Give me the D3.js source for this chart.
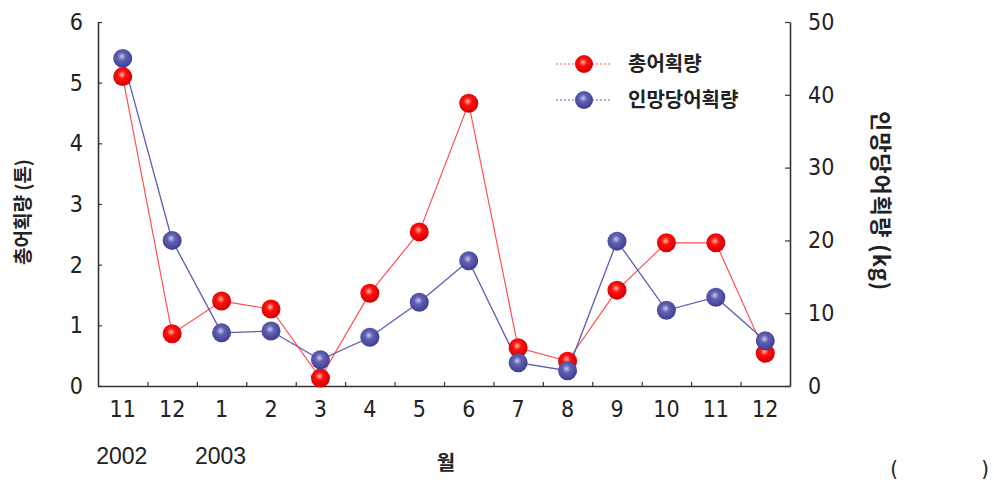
<!DOCTYPE html>
<html><head><meta charset="utf-8">
<script src="https://cdn.jsdelivr.net/npm/d3@7"></script>
<style>
body{margin:0;background:#fff;}
text{font-family:"Liberation Sans Narrow","DejaVu Sans Condensed","Liberation Sans",Arial,sans-serif;}
.kr{font-family:"Noto Sans CJK KR","Noto Sans",sans-serif;font-weight:bold;}
.yr{font-family:"Liberation Sans",Arial,sans-serif;}
</style></head><body>
<svg id="c" width="994" height="483"></svg>
<script>
const months = ["11","12","1","2","3","4","5","6","7","8","9","10","11","12"];
const totalCatch = [5.1,0.86,1.40,1.27,0.13,1.53,2.54,4.66,0.63,0.41,1.58,2.36,2.36,0.54];
const cpue = [45,20,7.3,7.55,3.6,6.7,11.5,17.2,3.2,2.1,19.9,10.4,12.2,6.2];
const leftTicks = [0,1,2,3,4,5,6];
const rightTicks = [0,10,20,30,40,50];
const seriesNames = ["총어획량","인망당어획량"];
const yearLabels = [{i:0,t:"2002"},{i:2,t:"2003"}];

const svg = d3.select("#c");
const L=98,R=790,T=22,B=386;
const x = d3.scaleBand().domain(d3.range(months.length)).range([L,R]).padding(0);
const yL = d3.scaleLinear().domain([0,6]).range([B,T]);
const yR = d3.scaleLinear().domain([0,50]).range([B,T]);

const defs = svg.append("defs");
function grad(id,c0,c1,c2){
  const g=defs.append("radialGradient").attr("id",id).attr("cx","45%").attr("cy","40%").attr("r","60%");
  g.append("stop").attr("offset","0%").attr("stop-color",c0);
  g.append("stop").attr("offset","35%").attr("stop-color",c1);
  g.append("stop").attr("offset","100%").attr("stop-color",c2);
}
grad("gr","#ffc0a0","#ff1010","#d00000");
grad("gb","#c8c8ec","#6262b4","#3c3c92");

const axc="#333";
const tickFont = "23px";
const gL = svg.append("g").attr("transform",`translate(${L},0)`)
  .call(d3.axisLeft(yL).tickValues(leftTicks).tickFormat(d3.format("d")).tickSizeInner(-4).tickSizeOuter(0).tickPadding(15));
const gR = svg.append("g").attr("transform",`translate(${R},0)`)
  .call(d3.axisRight(yR).tickValues(rightTicks).tickFormat(d3.format("d")).tickSizeInner(-5).tickSizeOuter(0).tickPadding(18));
const xb = d3.scaleLinear().domain([0,months.length]).range([L,R]);
const gB = svg.append("g").attr("transform",`translate(0,${B})`)
  .call(d3.axisBottom(xb).tickValues(d3.range(1,months.length)).tickSizeInner(-4).tickSizeOuter(0).tickFormat(""));
[gL,gR,gB].forEach(g=>{
  g.select(".domain").attr("stroke",axc).attr("stroke-width",1.6);
  g.selectAll(".tick line").attr("stroke",axc).attr("stroke-width",1.2);
  g.selectAll("text").attr("fill","#222").style("font-size",tickFont)
    .attr("font-family","Liberation Sans Narrow, DejaVu Sans Condensed, Liberation Sans, Arial, sans-serif");
});
gL.selectAll("text").attr("text-anchor","end");
svg.append("g").selectAll("text").data(months).join("text")
  .attr("x",(d,i)=>x(i)+x.bandwidth()/2).attr("y",B+31)
  .attr("text-anchor","middle").attr("fill","#222").style("font-size",tickFont).text(d=>d);
svg.append("g").selectAll("text").data(yearLabels).join("text").attr("class","yr")
  .attr("x",d=>x(d.i)+x.bandwidth()/2 - 1).attr("y",464)
  .attr("text-anchor","middle").attr("fill","#222").style("font-size","23px").text(d=>d.t);
svg.append("text").attr("class","kr").attr("x",446).attr("y",470).attr("text-anchor","middle")
  .attr("fill","#222").style("font-size","20px").text("월");
svg.append("text").attr("x",894).attr("y",476).attr("text-anchor","middle").attr("fill","#222").style("font-size","22px").text("(");
svg.append("text").attr("x",985).attr("y",476).attr("text-anchor","middle").attr("fill","#222").style("font-size","22px").text(")");

svg.append("text").attr("class","kr").attr("transform","translate(30,212) rotate(-90)")
  .attr("text-anchor","middle").attr("fill","#222").style("font-size","19px").text("총어획량 (톤)");
svg.append("text").attr("class","kr").attr("transform","translate(873,201) rotate(90)")
  .attr("text-anchor","middle").attr("fill","#222").style("font-size","22px").attr("letter-spacing","1px").text("인망당어획량 (kg)");

const cx = i=>x(i)+x.bandwidth()/2;
const lineR = d3.line().x((d,i)=>cx(i)).y(d=>yL(d));
const lineB = d3.line().x((d,i)=>cx(i)).y(d=>yR(d));
svg.append("path").datum(totalCatch).attr("d",lineR).attr("fill","none").attr("stroke","#ff5050").attr("stroke-width",1.2);
svg.append("path").datum(cpue).attr("d",lineB).attr("fill","none").attr("stroke","#5c5cb4").attr("stroke-width",1.3);
svg.append("g").selectAll("circle").data(totalCatch).join("circle")
  .attr("cx",(d,i)=>cx(i)).attr("cy",d=>yL(d)).attr("r",9.5).attr("fill","url(#gr)");
svg.append("g").selectAll("circle").data(cpue).join("circle")
  .attr("cx",(d,i)=>cx(i)).attr("cy",d=>yR(d)).attr("r",9.5).attr("fill","url(#gb)");

const leg = svg.append("g");
const legItems = [{n:seriesNames[0],c:"#ff5050",g:"url(#gr)",y:64},{n:seriesNames[1],c:"#6060b8",g:"url(#gb)",y:100}];
legItems.forEach(d=>{
  leg.append("line").attr("x1",556).attr("x2",612).attr("y1",d.y).attr("y2",d.y)
    .attr("stroke",d.c).attr("stroke-width",1.2).attr("stroke-dasharray","2,2");
  leg.append("circle").attr("cx",584).attr("cy",d.y).attr("r",9).attr("fill",d.g);
  leg.append("text").attr("class","kr").attr("x",628).attr("y",d.y+7).attr("fill","#222")
    .style("font-size","20px").text(d.n);
});
</script></body></html>
